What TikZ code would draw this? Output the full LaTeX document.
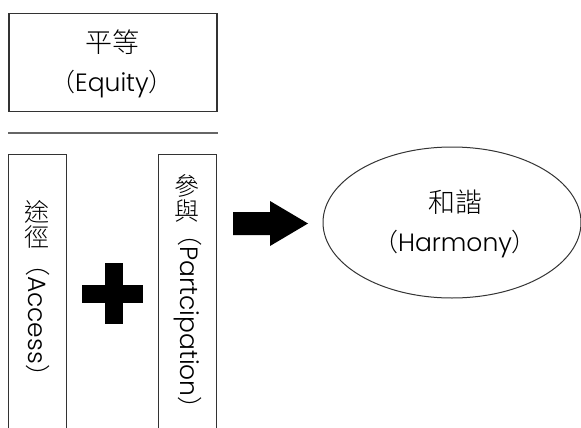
\documentclass[tikz,border=0pt]{standalone}
\usepackage{fontspec}
\IfFontExistsTF{Poppins Light}{\setmainfont{Poppins Light}}{\setmainfont{Poppins}}
\IfFontExistsTF{Noto Sans CJK TC Light}{\newfontfamily\cjk{Noto Sans CJK TC Light}}{\newfontfamily\cjk{Noto Sans CJK TC}}
\usetikzlibrary{shapes.geometric}
\definecolor{edgegray}{HTML}{333333}
\definecolor{sepgray}{HTML}{666666}
\tikzset{
  boxstyle/.style={draw=edgegray, line width=1.2pt, inner sep=0pt},
  labeltext/.style={font=\fontsize{25}{39}\selectfont, align=center, text=black, inner sep=0pt},
  cjkstack/.style={font=\fontsize{25}{25}\selectfont\cjk, align=center, text=black, inner sep=0pt},
  blockshape/.style={fill=black, draw=none},
}
\begin{document}
\begin{tikzpicture}[x=1pt, y=-1pt]
\useasboundingbox (0,0) rectangle (581,428);
% top box
\node[boxstyle, minimum width=208pt, minimum height=98pt] (equitybox) at (113,62.5) {};
\node[labeltext] (equitytext) at (112,64) {{\cjk\fontsize{27}{27}\selectfont 平等}\\{\cjk （}Equity{\cjk ）}};
% separator
\coordinate (sepL) at (8,133);
\coordinate (sepR) at (218,133);
\draw[sepgray, line width=1.5pt] (sepL) -- (sepR);
% vertical boxes (open at the bottom)
\draw[boxstyle] (8.5,440) -- (8.5,154.5) -- (66.5,154.5) -- (66.5,440);
\draw[boxstyle] (158.5,440) -- (158.5,154.5) -- (216.5,154.5) -- (216.5,440);
\node[cjkstack] (accesscjk) at (36.5,224) {途\\徑};
\node[labeltext, rotate=-90] (accesslat) at (37.5,320) {{\cjk （}Access{\cjk ）}};
\node[cjkstack] (partcjk) at (186.5,198) {參\\與};
\node[labeltext, rotate=-90] (partlat) at (187.5,321.5) {{\cjk （}Partcipation{\cjk ）}};
% plus sign
\fill[blockshape] (82,285) rectangle (143,303);
\fill[blockshape] (105,263) rectangle (123,324);
% block arrow
\fill[blockshape] (233,212) -- (270,212) -- (270,201) -- (308,223.5) -- (270,246) -- (270,235) -- (233,235) -- cycle;
% ellipse
\node[ellipse, draw=edgegray, line width=1pt, minimum width=258pt, minimum height=151pt, inner sep=0pt] (harmony) at (452,222.5) {};
\node[labeltext] (harmonytext) at (455,224) {{\cjk\fontsize{27}{27}\selectfont 和諧}\\{\cjk （}Harmony{\cjk ）}};
\end{tikzpicture}
\end{document}
